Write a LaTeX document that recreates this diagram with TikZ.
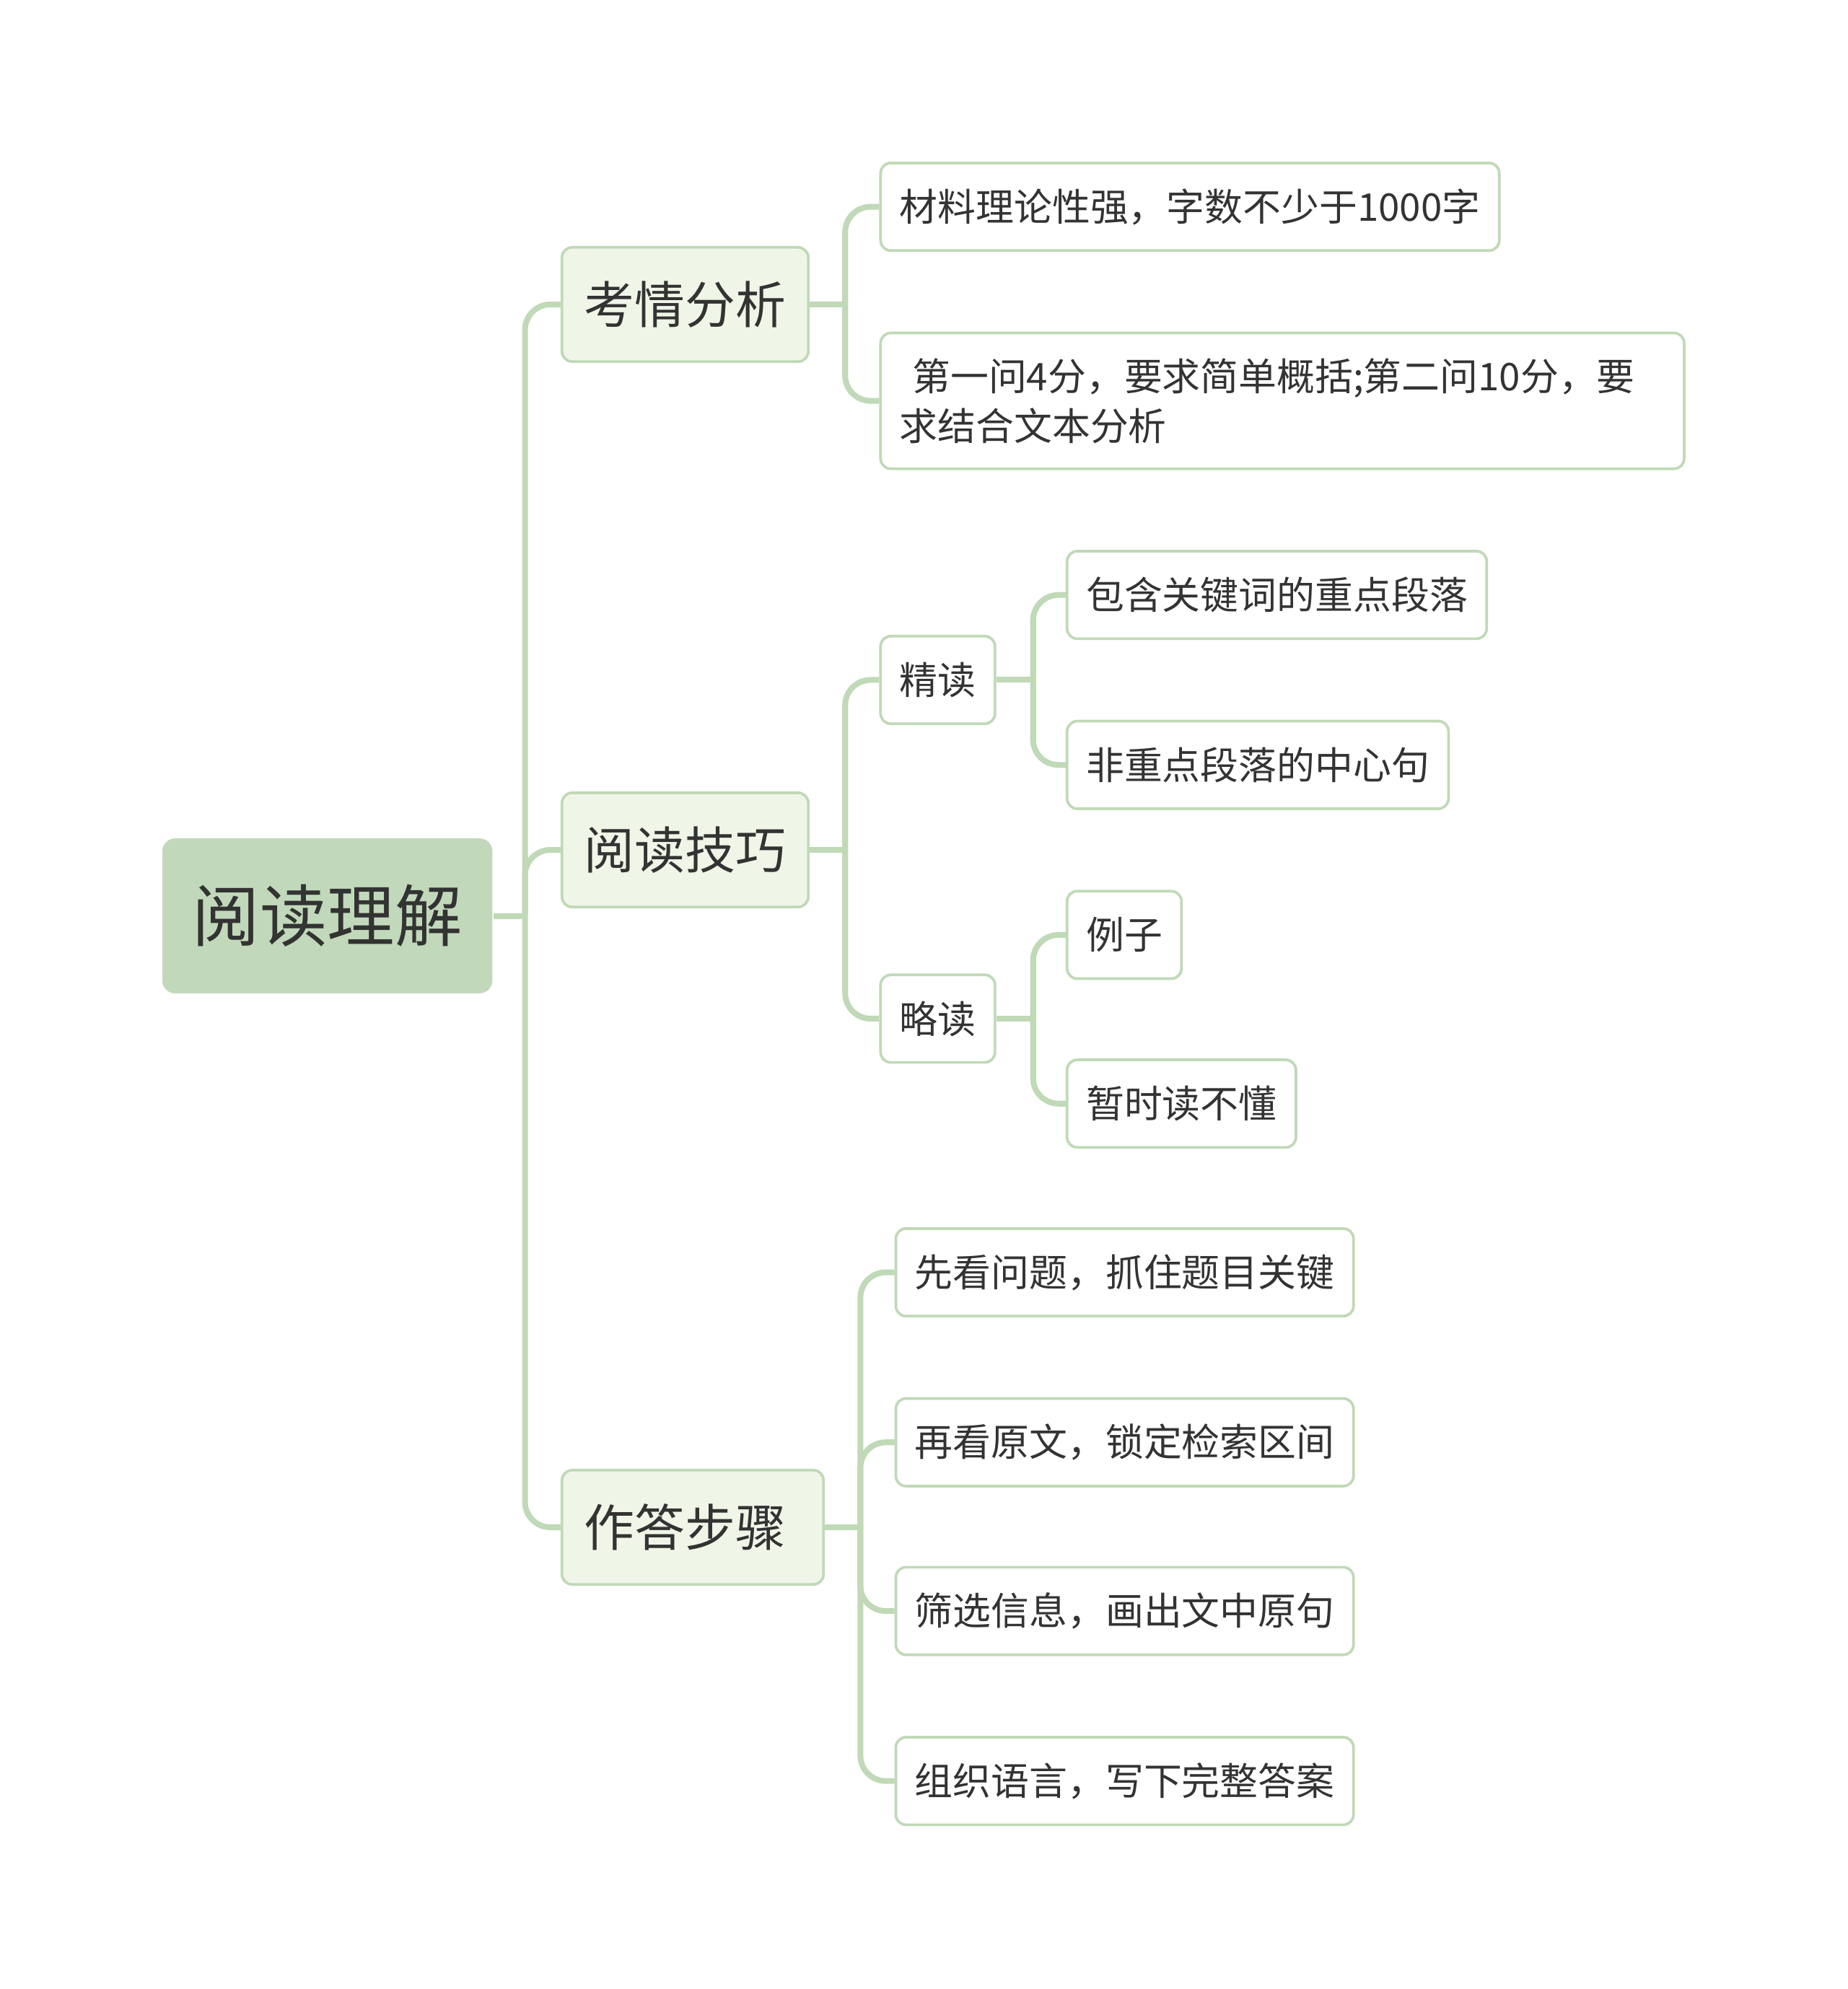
\documentclass[tikz,border=0pt]{standalone}
\usepackage{fontspec}
\newfontfamily\zhfont{Noto Sans CJK SC}
\definecolor{branchgreen}{HTML}{C0D9B7}
\definecolor{rootfill}{HTML}{C1D9BA}
\definecolor{topicfill}{HTML}{EFF6E8}
\definecolor{inkgray}{HTML}{333333}
\tikzset{
	rootbox/.style={fill=rootfill, rounded corners=0.1cm, minimum width=2.6cm, minimum height=1.22cm, text=inkgray, font=\zhfont\fontsize{15.1pt}{18pt}\selectfont},
	topicbox/.style={draw=branchgreen, fill=topicfill, line width=0.6pt, rounded corners=0.08cm, minimum width=1.94cm, minimum height=0.9cm, text=inkgray, font=\zhfont\fontsize{11.3pt}{14pt}\selectfont},
	leafbox/.style={draw=branchgreen, fill=white, line width=0.6pt, rounded corners=0.08cm, inner xsep=0.15cm, minimum height=0.69cm, anchor=west, text=inkgray, font=\zhfont\fontsize{8.55pt}{11.1pt}\selectfont},
	conn/.style={draw=branchgreen, line width=1.3pt, rounded corners=0.2cm},
}
\begin{document}
\begin{tikzpicture}[x=0.01cm, y=-0.01cm]
	\useasboundingbox (0,0) rectangle (1456,1568);
	
	\node[rootbox] (yuedu) at (258,722) {阅读理解};
	
	\node[topicbox] (kaoqing) at (540,240) {考情分析};
	\node[topicbox] (jiqiao) at (540,670) {阅读技巧};
	\node[topicbox, minimum width=2.06cm] (zuoda) at (546,1204) {作答步骤\kern0.12cm\relax};
	
	\node[leafbox] (kq1) at (693,163) {材料理论性强，字数不少于1000字};
	\node[leafbox, text width=6.03cm, minimum height=1.07cm, align=left] (kq2) at (693,316) {~第一问4分，要求简单概括;第二问10分，要\\求结合文本分析};
	
	\node[leafbox] (jingdu) at (693,536) {精读};
	\node[leafbox] (luedu) at (693,803) {略读};
	
	\node[leafbox] (jd1) at (840,469) {包含关键词的重点段落};
	\node[leafbox] (jd2) at (840,603) {非重点段落的中心句};
	\node[leafbox] (ld1) at (840,737) {例子};
	\node[leafbox] (ld2) at (840,870) {暂时读不懂};
	
	\node[leafbox] (zd1) at (705,1003) {先看问题，抓住题目关键};
	\node[leafbox] (zd2) at (705,1137) {再看原文，锁定检索区间};
	\node[leafbox] (zd3) at (705,1270) {筛选信息，画出文中原句};
	\node[leafbox] (zd4) at (705,1404) {组织语言，写下完整答案};
	
	% forks
	\coordinate (yueduFork) at ([xshift=0.25cm]yuedu.east);
	\coordinate (kaoqingFork) at ([xshift=0.28cm]kaoqing.east);
	\coordinate (jiqiaoFork) at ([xshift=0.28cm]jiqiao.east);
	\coordinate (zuodaFork) at ([xshift=0.28cm]zuoda.east);
	\coordinate (jingduFork) at ([xshift=0.29cm]jingdu.east);
	\coordinate (lueduFork) at ([xshift=0.29cm]luedu.east);
	
	\draw[conn] (yuedu.east) -- (yueduFork);
	\draw[conn] (kaoqing.east) -- (kaoqingFork);
	\draw[conn] (jiqiao.east) -- (jiqiaoFork);
	\draw[conn] (zuoda.east) -- (zuodaFork);
	\draw[conn] (jingdu.east) -- (jingduFork);
	\draw[conn] (luedu.east) -- (lueduFork);
	
	\foreach \t in {kaoqing,jiqiao,zuoda}
	{
	\draw[conn] (yueduFork) |- (\t.west);
	}
	\foreach \t in {kq1,kq2}
	{
	\draw[conn] (kaoqingFork) |- (\t.west);
	}
	\foreach \t in {jingdu,luedu}
	{
	\draw[conn] (jiqiaoFork) |- (\t.west);
	}
	\foreach \t in {jd1,jd2}
	{
	\draw[conn] (jingduFork) |- (\t.west);
	}
	\foreach \t in {ld1,ld2}
	{
	\draw[conn] (lueduFork) |- (\t.west);
	}
	\foreach \t in {zd1,zd2,zd3,zd4}
	{
	\draw[conn] (zuodaFork) |- (\t.west);
	}
\end{tikzpicture}
\end{document}
